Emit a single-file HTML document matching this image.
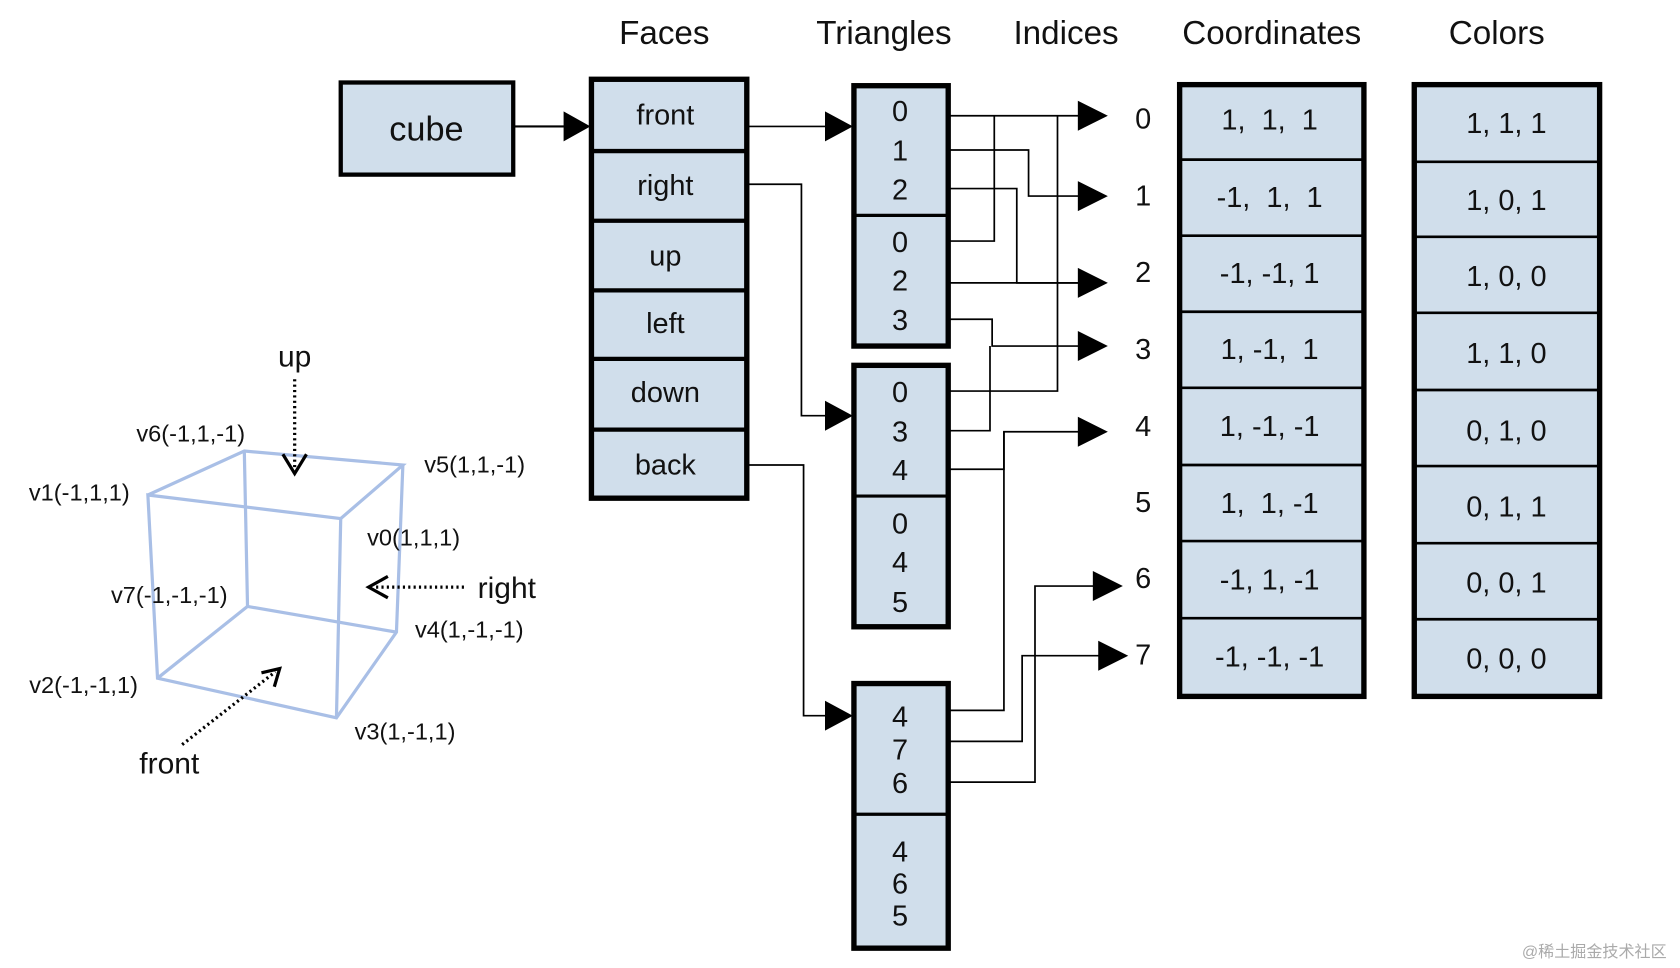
<!DOCTYPE html>
<html><head><meta charset="utf-8"><style>
html,body{margin:0;padding:0;background:#fff;}
svg{display:block;}
text{font-family:"Liberation Sans","Noto Sans CJK SC",sans-serif;fill:#111;}
.pre text{white-space:pre;}
</style></head><body>
<svg width="1680" height="968" viewBox="0 0 1568 903.5" xmlns="http://www.w3.org/2000/svg">
<g font-size="31" text-anchor="middle">
<text x="620" y="41">Faces</text>
<text x="825" y="41">Triangles</text>
<text x="995" y="41">Indices</text>
<text x="1187" y="41">Coordinates</text>
<text x="1397" y="41">Colors</text>
</g>
<rect x="318" y="77" width="161" height="86" fill="#d0deeb" stroke="#000" stroke-width="4"/>
<text x="398" y="131" font-size="32" text-anchor="middle">cube</text>
<line x1="480" y1="118" x2="527" y2="118" stroke="#000" stroke-width="2"/>
<polygon points="526,104 551,118 526,132" fill="#000"/>
<rect x="552" y="74" width="145" height="391" fill="#d0deeb" stroke="#000" stroke-width="5"/>
<g stroke="#000" stroke-width="4">
<line x1="552" y1="141" x2="697" y2="141"/><line x1="552" y1="206" x2="697" y2="206"/>
<line x1="552" y1="271" x2="697" y2="271"/><line x1="552" y1="335" x2="697" y2="335"/>
<line x1="552" y1="401" x2="697" y2="401"/>
</g>
<g font-size="27" text-anchor="middle">
<text x="621" y="116">front</text><text x="621" y="182">right</text><text x="621" y="248">up</text>
<text x="621" y="311">left</text><text x="621" y="375">down</text><text x="621" y="443">back</text>
</g>
<g fill="#d0deeb" stroke="#000" stroke-width="5">
<rect x="797" y="80" width="88" height="243"/>
<rect x="797" y="341" width="88" height="244"/>
<rect x="797" y="638" width="88" height="247"/>
</g>
<g stroke="#000" stroke-width="3">
<line x1="797" y1="201" x2="885" y2="201"/><line x1="797" y1="463" x2="885" y2="463"/><line x1="797" y1="760" x2="885" y2="760"/>
</g>
<g font-size="27" text-anchor="middle">
<text x="840" y="113">0</text><text x="840" y="150">1</text><text x="840" y="186">2</text>
<text x="840" y="235">0</text><text x="840" y="271">2</text><text x="840" y="308">3</text>
<text x="840" y="375">0</text><text x="840" y="412">3</text><text x="840" y="448">4</text>
<text x="840" y="498">0</text><text x="840" y="534">4</text><text x="840" y="571">5</text>
<text x="840" y="678">4</text><text x="840" y="709">7</text><text x="840" y="740">6</text>
<text x="840" y="804">4</text><text x="840" y="834">6</text><text x="840" y="864">5</text>
</g>
<g fill="none" stroke="#000" stroke-width="1.6">
<polyline points="698,118 772,118"/>
<polyline points="698,172 748,172 748,388 772,388"/>
<polyline points="698,434 750,434 750,668 772,668"/>
<polyline points="886,108 1007,108"/>
<polyline points="886,140 960,140 960,183 1007,183"/>
<polyline points="886,176 949,176 949,264 1007,264"/>
<polyline points="886,225 928,225 928,108"/>
<polyline points="886,264 1007,264"/>
<polyline points="886,298 926,298 926,323 1007,323"/>
<polyline points="886,365 987,365 987,108"/>
<polyline points="886,402 924,402 924,323"/>
<polyline points="886,438 937,438 937,403 1007,403"/>
<polyline points="886,663 937,663 937,403"/>
<polyline points="886,692 954,692 954,612 1027,612"/>
<polyline points="886,730 966,730 966,547 1022,547"/>
</g>
<g fill="#000">
<polygon points="770,104 796,118 770,132"/>
<polygon points="770,374 796,388 770,402"/>
<polygon points="770,654 796,668 770,682"/>
<polygon points="1006,94 1034,108 1006,122"/>
<polygon points="1006,169 1034,183 1006,197"/>
<polygon points="1006,250 1034,264 1006,278"/>
<polygon points="1006,309 1034,323 1006,337"/>
<polygon points="1006,389 1034,403 1006,417"/>
<polygon points="1020,533 1048,547 1020,561"/>
<polygon points="1025,598 1053,612 1025,626"/>
</g>
<g font-size="27" text-anchor="middle">
<text x="1067" y="120">0</text><text x="1067" y="192">1</text><text x="1067" y="263">2</text>
<text x="1067" y="335">3</text><text x="1067" y="407">4</text><text x="1067" y="478">5</text>
<text x="1067" y="549">6</text><text x="1067" y="620">7</text>
</g>
<rect x="1101" y="79" width="172" height="571" fill="#d0deeb" stroke="#000" stroke-width="5"/>
<rect x="1320" y="79" width="173" height="571" fill="#d0deeb" stroke="#000" stroke-width="5"/>
<g stroke="#000" stroke-width="2.5">
<line x1="1101" y1="149" x2="1273" y2="149"/><line x1="1101" y1="220" x2="1273" y2="220"/>
<line x1="1101" y1="291" x2="1273" y2="291"/><line x1="1101" y1="362" x2="1273" y2="362"/>
<line x1="1101" y1="434" x2="1273" y2="434"/><line x1="1101" y1="505" x2="1273" y2="505"/>
<line x1="1101" y1="577" x2="1273" y2="577"/>
<line x1="1320" y1="151" x2="1493" y2="151"/><line x1="1320" y1="221" x2="1493" y2="221"/>
<line x1="1320" y1="292" x2="1493" y2="292"/><line x1="1320" y1="364" x2="1493" y2="364"/>
<line x1="1320" y1="435" x2="1493" y2="435"/><line x1="1320" y1="507" x2="1493" y2="507"/>
<line x1="1320" y1="578" x2="1493" y2="578"/>
</g>
<g class="pre" font-size="27" text-anchor="middle">
<text x="1185" y="121">1,  1,  1</text><text x="1185" y="193">-1,  1,  1</text>
<text x="1185" y="264">-1, -1, 1</text><text x="1185" y="335">1, -1,  1</text>
<text x="1185" y="407">1, -1, -1</text><text x="1185" y="479">1,  1, -1</text>
<text x="1185" y="550">-1, 1, -1</text><text x="1185" y="622">-1, -1, -1</text>
<text x="1406" y="124">1, 1, 1</text><text x="1406" y="196">1, 0, 1</text>
<text x="1406" y="267">1, 0, 0</text><text x="1406" y="339">1, 1, 0</text>
<text x="1406" y="411">0, 1, 0</text><text x="1406" y="482">0, 1, 1</text>
<text x="1406" y="553">0, 0, 1</text><text x="1406" y="624">0, 0, 0</text>
</g>
<g stroke="#a9bfe6" stroke-width="3" fill="none">
<polyline points="138,462 228,421 376,434 318,484 138,462 147,633 314,670 370,590 376,434"/>
<line x1="318" y1="484" x2="314" y2="670"/>
<polyline points="228,421 231,566 370,590"/>
<line x1="147" y1="633" x2="231" y2="566"/>
</g>
<g font-size="22" text-anchor="middle">
<text x="178" y="412">v6(-1,1,-1)</text>
<text x="443" y="441">v5(1,1,-1)</text>
<text x="74" y="467">v1(-1,1,1)</text>
<text x="386" y="509">v0(1,1,1)</text>
<text x="158" y="563">v7(-1,-1,-1)</text>
<text x="438" y="595">v4(1,-1,-1)</text>
<text x="78" y="647">v2(-1,-1,1)</text>
<text x="378" y="690">v3(1,-1,1)</text>
</g>
<g font-size="28" text-anchor="middle">
<text x="275" y="342">up</text>
<text x="473" y="558">right</text>
<text x="158" y="722">front</text>
</g>
<g stroke="#000" stroke-width="3" stroke-dasharray="2,3" fill="none">
<line x1="275" y1="354" x2="275" y2="438"/>
<line x1="433" y1="548" x2="348" y2="548"/>
<line x1="170" y1="695" x2="257" y2="627"/>
</g>
<g stroke="#000" stroke-width="3" fill="none">
<polyline points="264,424 275,442 286,424"/>
<polyline points="362,538 344,548 362,558"/>
<polyline points="244,628 261,624 256,641"/>
</g>
<text x="1488" y="893" font-size="15" style="fill:#aaa" text-anchor="middle">@稀土掘金技术社区</text>
</svg>
</body></html>
